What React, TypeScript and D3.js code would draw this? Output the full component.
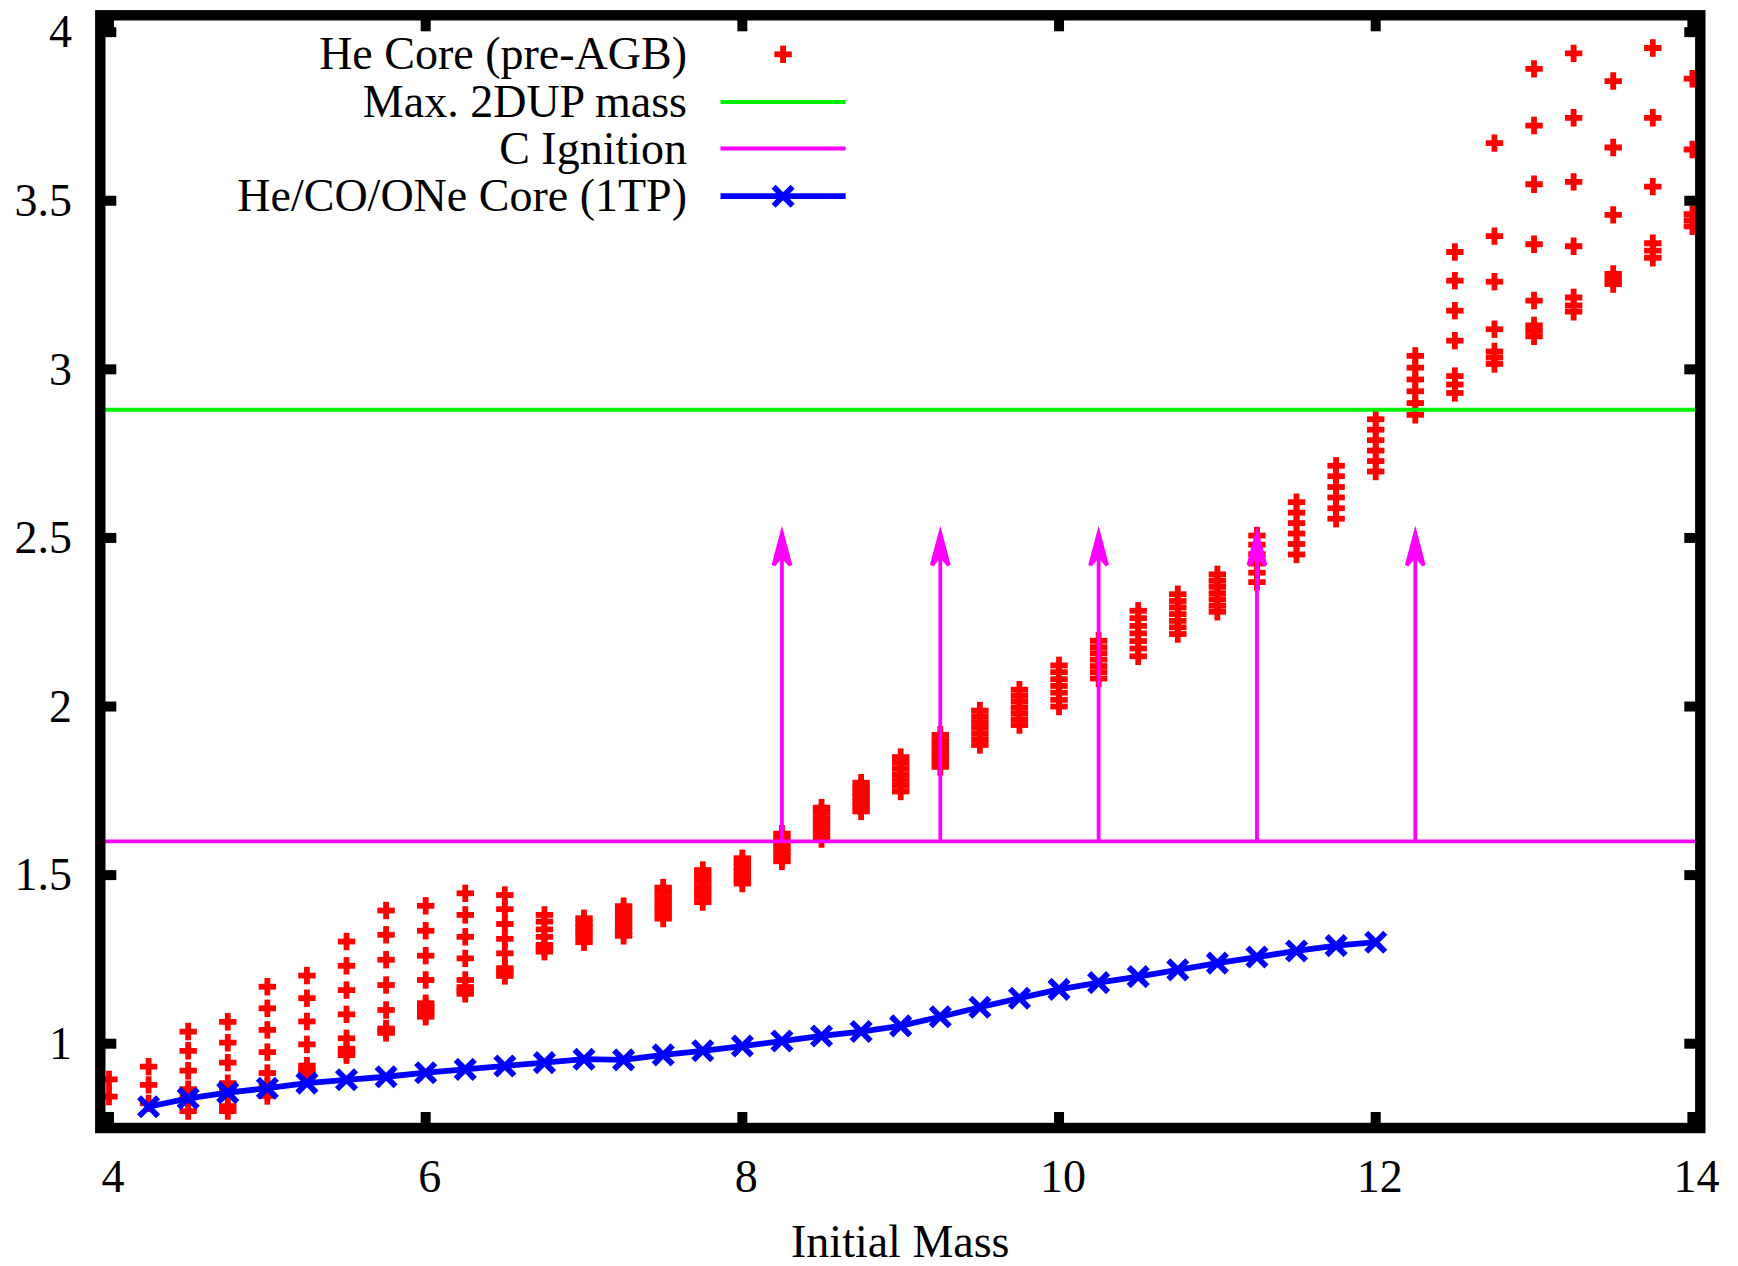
import React from 'react';
import * as d3 from 'd3';

const W = 1738;
const H = 1266;

const xDomain = [3.945, 14.05];
const yDomain = [0.75, 4.05];
const xTicks = [4, 6, 8, 10, 12, 14];
const yTicks = [1, 1.5, 2, 2.5, 3, 3.5, 4];
const yTickLabels = ['1', '1.5', '2', '2.5', '3', '3.5', '4'];
const xLabel = 'Initial Mass';

const legendLabels = ['He Core (pre-AGB)', 'Max. 2DUP mass', 'C Ignition', 'He/CO/ONe Core (1TP)'];

// He core (pre-AGB): initial masses and the core masses at each
const heCoreMasses = [4.0, 4.25, 4.5, 4.75, 5.0, 5.25, 5.5, 5.75, 6.0, 6.25, 6.5, 6.75,
  7.0, 7.25, 7.5, 7.75, 8.0, 8.25, 8.5, 8.75, 9.0, 9.25, 9.5, 9.75, 10.0, 10.25, 10.5,
  10.75, 11.0, 11.25, 11.5, 11.75, 12.0, 12.25, 12.5, 12.75, 13.0, 13.25, 13.5, 13.75, 14.0];
const heCoreValues = [
  [0.894, 0.843],
  [0.932, 0.878, 0.823],
  [1.036, 0.979, 0.92, 0.865, 0.84, 0.80],
  [1.065, 1.003, 0.944, 0.883, 0.86, 0.815, 0.80],
  [1.169, 1.105, 1.041, 0.975, 0.913, 0.873, 0.845],
  [1.202, 1.135, 1.066, 0.998, 0.935, 0.922, 0.912],
  [1.303, 1.231, 1.159, 1.087, 1.016, 0.985, 0.976, 0.966],
  [1.395, 1.323, 1.249, 1.174, 1.100, 1.045, 1.038, 1.032],
  [1.409, 1.335, 1.261, 1.189, 1.120, 1.110, 1.100, 1.090, 1.080],
  [1.446, 1.382, 1.317, 1.253, 1.189, 1.168, 1.158, 1.148],
  [1.441, 1.399, 1.355, 1.311, 1.268, 1.224, 1.214, 1.201],
  [1.382, 1.362, 1.339, 1.317, 1.293, 1.283, 1.273],
  [1.372, 1.358, 1.344, 1.33, 1.316, 1.301],
  [1.408, 1.393, 1.378, 1.363, 1.348, 1.334, 1.32],
  [1.463, 1.448, 1.432, 1.417, 1.402, 1.386, 1.371],
  [1.515, 1.499, 1.483, 1.467, 1.451, 1.436, 1.42],
  [1.55, 1.537, 1.524, 1.511, 1.498, 1.486, 1.475],
  [1.623, 1.609, 1.595, 1.582, 1.568, 1.555, 1.541],
  [1.70, 1.685, 1.669, 1.654, 1.638, 1.622, 1.607],
  [1.774, 1.76, 1.746, 1.731, 1.717, 1.703, 1.689],
  [1.85, 1.833, 1.816, 1.799, 1.782, 1.765, 1.748],
  [1.916, 1.9, 1.884, 1.868, 1.853, 1.837, 1.821],
  [1.988, 1.971, 1.954, 1.937, 1.92, 1.903, 1.886],
  [2.05, 2.032, 2.015, 1.997, 1.98, 1.962, 1.945],
  [2.122, 2.102, 2.081, 2.061, 2.041, 2.02, 2.0],
  [2.195, 2.176, 2.158, 2.139, 2.12, 2.102, 2.083],
  [2.284, 2.262, 2.239, 2.217, 2.194, 2.172, 2.149],
  [2.333, 2.313, 2.294, 2.274, 2.254, 2.235, 2.215],
  [2.392, 2.373, 2.355, 2.336, 2.318, 2.299, 2.281],
  [2.507, 2.48, 2.452, 2.424, 2.397, 2.369],
  [2.606, 2.575, 2.544, 2.513, 2.482, 2.451],
  [2.714, 2.683, 2.651, 2.62, 2.588, 2.557],
  [2.852, 2.821, 2.79, 2.759, 2.728, 2.697],
  [3.04, 3.005, 2.97, 2.935, 2.90, 2.865],
  [3.348, 3.263, 3.174, 3.085, 2.98, 2.955, 2.93],
  [3.671, 3.395, 3.26, 3.119, 3.053, 3.035, 3.016],
  [3.891, 3.723, 3.549, 3.371, 3.204, 3.13, 3.114, 3.098],
  [3.937, 3.746, 3.556, 3.365, 3.213, 3.19, 3.171],
  [3.855, 3.658, 3.458, 3.283, 3.268, 3.253],
  [3.953, 3.746, 3.542, 3.374, 3.352, 3.331],
  [3.862, 3.652, 3.46, 3.442, 3.424],
];

// He/CO/ONe core at first thermal pulse
const tpMasses = [4.25, 4.5, 4.75, 5.0, 5.25, 5.5, 5.75, 6.0, 6.25, 6.5, 6.75, 7.0, 7.25,
  7.5, 7.75, 8.0, 8.25, 8.5, 8.75, 9.0, 9.25, 9.5, 9.75, 10.0, 10.25, 10.5, 10.75, 11.0,
  11.25, 11.5, 11.75, 12.0];
const tpCores = [0.813, 0.838, 0.855, 0.868, 0.883, 0.893, 0.902, 0.914, 0.924, 0.934,
  0.944, 0.954, 0.952, 0.967, 0.979, 0.993, 1.008, 1.023, 1.036, 1.053, 1.080, 1.108,
  1.135, 1.161, 1.181, 1.199, 1.219, 1.239, 1.257, 1.275, 1.291, 1.301];

const max2dupMass = 2.88;
const cIgnitionMass = 1.6;
const cIgnitionArrowX = [8.25, 9.25, 10.25, 11.25, 12.25];
const arrowTopValue = 2.52;

const RED = '#ff0000';
const GREEN = '#00ee00';
const MAGENTA = '#ff00ff';
const BLUE = '#0000ff';
const FONT = "'Liberation Serif', 'Times New Roman', serif";

const L = 100.3, R = 1700.3, T = 15.3, B = 1128;

function Plus({ x, y, s = 8.7 }: { x: number; y: number; s?: number }) {
  return (
    <g stroke={RED} strokeWidth={5.8} strokeLinecap="butt">
      <line x1={x - s} y1={y} x2={x + s} y2={y} />
      <line x1={x} y1={y - s} x2={x} y2={y + s} />
    </g>
  );
}

function Cross({ x, y, s = 9.5 }: { x: number; y: number; s?: number }) {
  return (
    <g stroke={BLUE} strokeWidth={5.8} strokeLinecap="butt">
      <line x1={x - s} y1={y - s} x2={x + s} y2={y + s} />
      <line x1={x - s} y1={y + s} x2={x + s} y2={y - s} />
    </g>
  );
}

export default function App() {
  const x = d3.scaleLinear().domain(xDomain).range([L, R]);
  const y = d3.scaleLinear().domain(yDomain).range([B, T]);

  const line = d3.line<number>()
    .x((_, i) => x(tpMasses[i]))
    .y((d) => y(d));

  const redPoints: { mx: number; v: number }[] = [];
  heCoreMasses.forEach((m, i) => heCoreValues[i].forEach((v) => redPoints.push({ mx: m, v })));

  const legendTextX = 687;
  const legendLineX1 = 720.5;
  const legendLineX2 = 845.7;
  const legendRows = [54.3, 102, 148.5, 196.2];
  const tickLen = 16;

  React.useEffect(() => {
    document.body.style.margin = '0';
  }, []);

  return (
    <svg width={W} height={H} style={{ position: 'absolute', left: 0, top: 0, background: '#fff' }}
      fontFamily={FONT}>
      <rect x={0} y={0} width={W} height={H} fill="#fff" />
      <defs>
        <clipPath id="plotClip">
          <rect x={L} y={T} width={R - L} height={B - T} />
        </clipPath>
      </defs>

      <g clipPath="url(#plotClip)">
        {/* He core points */}
        {redPoints.map((p, i) => (
          <Plus key={i} x={x(p.mx)} y={y(p.v)} />
        ))}
        {/* Max 2DUP mass */}
        <line x1={L} x2={R} y1={y(max2dupMass)} y2={y(max2dupMass)} stroke={GREEN} strokeWidth={4} />
        {/* C ignition */}
        <line x1={L} x2={R} y1={y(cIgnitionMass)} y2={y(cIgnitionMass)} stroke={MAGENTA} strokeWidth={3.8} />
        {cIgnitionArrowX.map((ax, i) => {
          const px = x(ax);
          const y0 = y(cIgnitionMass);
          const y1 = y(arrowTopValue);
          return (
            <g key={i} stroke={MAGENTA} strokeWidth={3.8} fill="none">
              <line x1={px} x2={px} y1={y0} y2={y1 + 4} />
              <polygon points={`${px - 8.5},${y1 + 34} ${px},${y1 + 2} ${px + 8.5},${y1 + 34} ${px},${y1 + 24}`}
                fill={MAGENTA} strokeLinejoin="miter" />
            </g>
          );
        })}
        {/* He/CO/ONe core (1TP) */}
        <path d={line(tpCores) || ''} fill="none" stroke={BLUE} strokeWidth={5.8} />
        {tpCores.map((v, i) => (
          <Cross key={i} x={x(tpMasses[i])} y={y(v)} />
        ))}
      </g>

      {/* ticks */}
      <g stroke="#000" strokeWidth={10}>
        {xTicks.map((t) => (
          <g key={'xt' + t}>
            <line x1={x(t)} x2={x(t)} y1={B} y2={B - tickLen} />
            <line x1={x(t)} x2={x(t)} y1={T} y2={T + tickLen} />
          </g>
        ))}
        {yTicks.map((t) => (
          <g key={'yt' + t}>
            <line x1={L} x2={L + tickLen} y1={y(t)} y2={y(t)} />
            <line x1={R} x2={R - tickLen} y1={y(t)} y2={y(t)} />
          </g>
        ))}
      </g>
      {/* border */}
      <rect x={L} y={T} width={R - L} height={B - T} fill="none" stroke="#000" strokeWidth={10.4} strokeLinejoin="miter" />

      {/* tick labels */}
      <g fontSize={46} fill="#000">
        {xTicks.map((t) => (
          <text key={'xl' + t} x={x(t) + 4} y={1192} textAnchor="middle">{String(t)}</text>
        ))}
        {yTicks.map((t, i) => (
          <text key={'yl' + t} x={72} y={y(t)} dy="0.33em" textAnchor="end">{yTickLabels[i]}</text>
        ))}
        <text x={(L + R) / 2} y={1257} textAnchor="middle">{xLabel}</text>
      </g>

      {/* legend */}
      <g fontSize={46} fill="#000">
        {legendLabels.map((lab, i) => (
          <text key={lab} x={legendTextX} y={legendRows[i]} dy="0.33em" textAnchor="end">{lab}</text>
        ))}
        <Plus x={(legendLineX1 + legendLineX2) / 2} y={legendRows[0]} />
        <line x1={legendLineX1} x2={legendLineX2} y1={legendRows[1]} y2={legendRows[1]} stroke={GREEN} strokeWidth={4} />
        <line x1={legendLineX1} x2={legendLineX2} y1={legendRows[2]} y2={legendRows[2]} stroke={MAGENTA} strokeWidth={3.8} />
        <line x1={legendLineX1} x2={legendLineX2} y1={legendRows[3]} y2={legendRows[3]} stroke={BLUE} strokeWidth={5.8} />
        <Cross x={(legendLineX1 + legendLineX2) / 2} y={legendRows[3]} />
      </g>
    </svg>
  );
}
